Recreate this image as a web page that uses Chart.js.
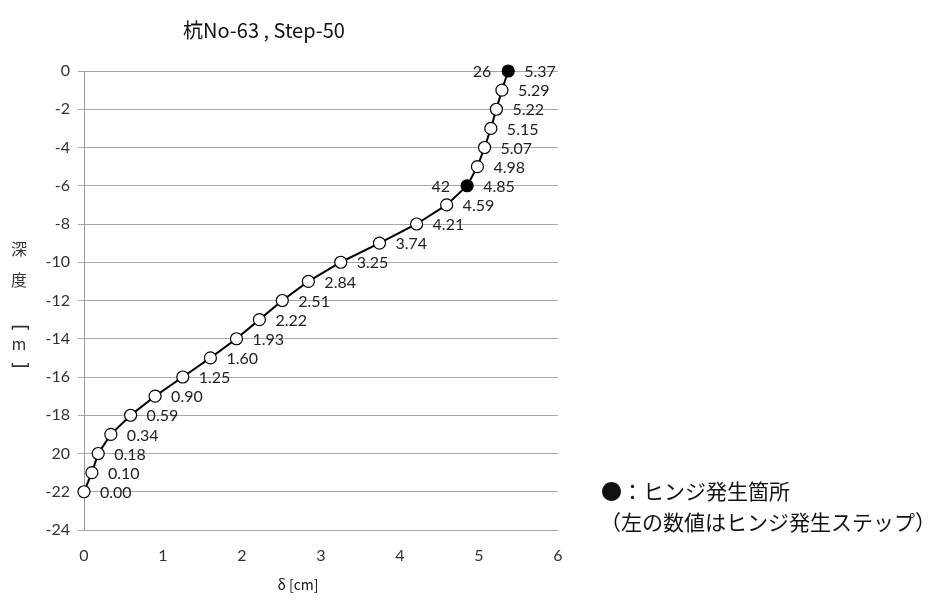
<!DOCTYPE html>
<html>
<head>
<meta charset="utf-8">
<script src="https://cdn.jsdelivr.net/npm/chart.js@4/dist/chart.umd.min.js"></script>
<style>
  html, body { margin: 0; padding: 0; background: #fff; }
  #wrap { width: 935px; height: 604px; }
</style>
</head>
<body>
<div id="wrap"><canvas id="grafica" width="935" height="604"></canvas></div>
<script>
// datos
const profundidades = [0, -1, -2, -3, -4, -5, -6, -7, -8, -9, -10, -11, -12, -13, -14, -15, -16, -17, -18, -19, -20, -21, -22];
const desplazamientos = [5.37, 5.29, 5.22, 5.15, 5.07, 4.98, 4.85, 4.59, 4.21, 3.74, 3.25, 2.84, 2.51, 2.22, 1.93, 1.60, 1.25, 0.90, 0.59, 0.34, 0.18, 0.10, 0.00];
const pasosBisagra = [26, null, null, null, null, null, 42, null, null, null, null, null, null, null, null, null, null, null, null, null, null, null, null];
const etiquetasY = { '0': '0', '-2': '-2', '-4': '-4', '-6': '-6', '-8': '-8', '-10': '-10', '-12': '-12', '-14': '-14', '-16': '-16', '-18': '-18', '-20': '20', '-22': '-22', '-24': '-24' };
const etiquetasX = ['0', '1', '2', '3', '4', '5', '6'];

const tituloGrafica = '杭No-63 , Step-50';
const tituloX = 'δ [cm]';
const tituloY = ['深', '度', '[', 'm', ']'];
const notas = ['●：ヒンジ発生箇所', '（左の数値はヒンジ発生ステップ）'];

const fuenteNum = 'Lato, "Open Sans", sans-serif';
const fuenteJP = '"Noto Sans CJK JP", sans-serif';

const puntos = profundidades.map((y, i) => ({ x: desplazamientos[i], y }));

// textos extra: etiquetas de datos, títulos y notas
const textosPlugin = {
    id: 'textos',
    afterDatasetsDraw(chart) {
        const { ctx, scales } = chart;
        ctx.save();
        ctx.fillStyle = '#222';
        ctx.font = '16px ' + fuenteNum;
        ctx.textBaseline = 'middle';
        puntos.forEach((p, i) => {
            const px = scales.x.getPixelForValue(p.x);
            const py = scales.y.getPixelForValue(p.y);
            ctx.textAlign = 'left';
            ctx.fillText(desplazamientos[i].toFixed(2), px + 16, py + 1);
            if (pasosBisagra[i] != null) {
                ctx.textAlign = 'right';
                ctx.fillText(String(pasosBisagra[i]), px - 17, py + 1);
            }
        });

        ctx.fillStyle = '#111';
        ctx.textAlign = 'center';
        ctx.font = '20px ' + fuenteJP;
        ctx.fillText(tituloGrafica, 264, 30);

        ctx.font = '14px ' + fuenteJP;
        ctx.fillText(tituloX, 298, 585);

        // título Y en vertical (corchetes girados)
        ctx.fillStyle = '#333';
        const ys = [249, 280, 328, 344, 365];
        tituloY.forEach((c, k) => {
            ctx.save();
            ctx.translate(19, ys[k]);
            ctx.font = '16px ' + fuenteJP;
            if (c === '[' || c === ']') {
                ctx.rotate(Math.PI / 2);
                ctx.font = '20px "DejaVu Sans", sans-serif';
            }
            ctx.fillText(c, 0, 0);
            ctx.restore();
        });

        ctx.fillStyle = '#111';
        ctx.textAlign = 'left';
        ctx.font = '21px ' + fuenteJP;
        ctx.fillText(notas[0], 601, 491);
        ctx.fillText(notas[1], 600, 522);
        ctx.restore();
    }
};

new Chart(document.getElementById('grafica').getContext('2d'), {
    type: 'scatter',
    data: {
        datasets: [{
            data: puntos,
            showLine: true,
            borderColor: '#000',
            borderWidth: 2,
            pointRadius: 6,
            pointBorderWidth: 1.2,
            pointBorderColor: '#000',
            pointBackgroundColor: pasosBisagra.map(v => v != null ? '#000' : '#fff'),
            tension: 0,
            clip: false
        }]
    },
    options: {
        responsive: false,
        animation: false,
        layout: { padding: { left: 0, top: 71, right: 377, bottom: 0 } },
        plugins: {
            legend: { display: false },
            title: { display: false },
            tooltip: { enabled: false }
        },
        scales: {
            x: {
                type: 'linear',
                min: 0, max: 6,
                afterFit(s) { s.height = 74; },
                ticks: {
                    stepSize: 1,
                    color: '#333',
                    font: { size: 16, family: fuenteNum },
                    padding: 8,
                    callback: v => etiquetasX[v]
                },
                grid: { display: false },
                border: { display: false }
            },
            y: {
                type: 'linear',
                min: -24, max: 0,
                afterFit(s) { s.width = 84; },
                ticks: {
                    stepSize: 2,
                    color: '#333',
                    font: { size: 16, family: fuenteNum },
                    padding: 8,
                    callback: v => etiquetasY[String(v)]
                },
                grid: { color: '#a8a8a8', lineWidth: 1, tickLength: 6 },
                border: { display: true, color: '#999', width: 1 }
            }
        }
    },
    plugins: [textosPlugin]
});
</script>
</body>
</html>
